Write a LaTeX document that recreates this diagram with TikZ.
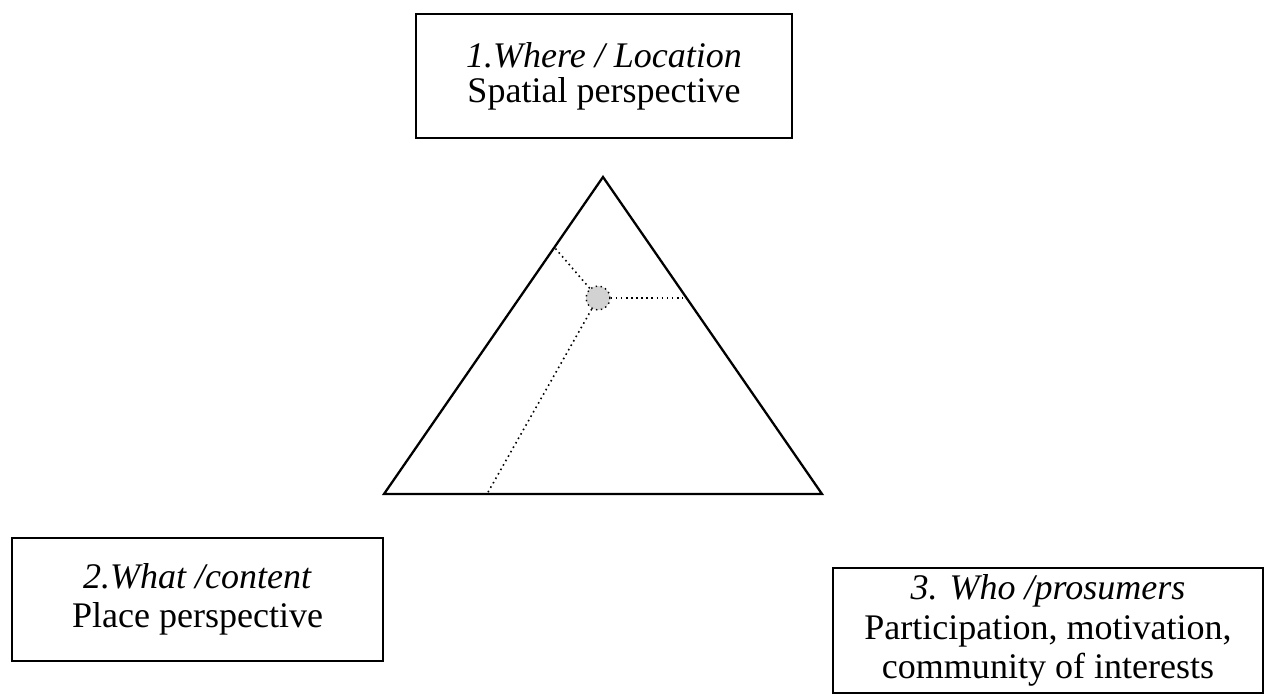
\documentclass[tikz,border=0pt]{standalone}
\usepackage{fontspec}
\setmainfont{Liberation Serif}
\begin{document}
\begin{tikzpicture}[x=0.02cm,y=-0.02cm,
  lbl/.style={draw,line width=1pt,align=center,inner sep=0pt,font=\fontsize{20.5}{22.5}\selectfont},
  dots/.style={dotted,line width=0.9pt}]
\useasboundingbox (0,0) rectangle (1265,699);
\node[lbl,font=\fontsize{20.5}{20}\selectfont,minimum width=376*0.02cm,minimum height=124*0.02cm] (top) at (604,76) {\textit{1.Where / Location}\\Spatial perspective};
\node[lbl,minimum width=371*0.02cm,minimum height=123*0.02cm] (left) at (197.5,599.5) {\textit{2.What /content}\\Place perspective};
\node[lbl,minimum width=430*0.02cm,minimum height=125*0.02cm] (right) at (1048,630.5) {\textit{3. Who /prosumers}\\Participation, motivation,\\community of interests};
\coordinate (A) at (603,177);
\coordinate (B) at (384,494);
\coordinate (C) at (822,494);
\draw[line width=1.3pt,line join=miter] (A) -- (B) -- (C) -- cycle;
\node[circle,draw=black,dotted,line width=0.8pt,fill=gray!35,minimum size=24*0.02cm,inner sep=0pt] (d) at (598,298) {};
\coordinate (p1) at (555,248);
\coordinate (p2) at (683,298);
\coordinate (p3) at (487,494);
\draw[dots] (d) -- (p1);
\draw[dots] (d) -- (p2);
\draw[dots] (d) -- (p3);
\end{tikzpicture}
\end{document}
